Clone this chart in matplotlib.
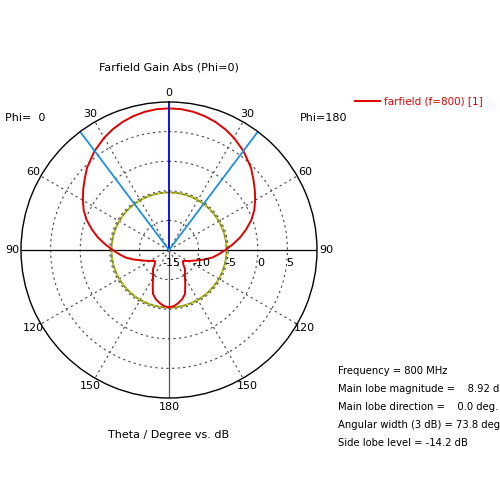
import numpy as np
import matplotlib
matplotlib.use("Agg")
import matplotlib.pyplot as plt

theta_deg = [0, 5, 10, 15, 20, 25, 30, 37, 45, 50, 55, 60, 65, 70, 75, 80, 85, 90, 95, 100, 105, 110, 115, 120, 128, 135, 140, 145, 150, 155, 160, 165, 170, 175, 180]
gain_db = [8.92, 8.88, 8.7, 8.4, 8.0, 7.5, 6.9, 5.92, 4.6, 3.6, 2.7, 1.8, 0.9, -0.2, -1.5, -2.8, -4.2, -5.5, -6.6, -7.6, -8.8, -9.9, -10.7, -11.3, -12.0, -11.6, -10.8, -10.3, -9.6, -8.5, -7.1, -6.4, -5.9, -5.5, -5.3]
rings = [-15, -10, -5, 0, 5]
angle_labels = [0, 30, 60, 90, 120, 150, 180]
side_lobe_db = -5.28
half_width = 73.8 / 2

plt.rcParams['font.family'] = 'DejaVu Sans'
fig = plt.figure(figsize=(5, 5), dpi=100)
ax = fig.add_axes([0.042, 0.204, 0.592, 0.592], projection='polar')
ax.set_theta_zero_location('N')
ax.set_theta_direction(-1)
ax.set_rlim(-15, 10)
ax.grid(False)
ax.set_xticks([]); ax.set_yticks([])
ax.spines['polar'].set_linewidth(1.0)

t = np.radians(np.linspace(0, 360, 721))
for r in [-10, -5, 0, 5]:
    ax.plot(t, np.full_like(t, r), color='#444444', ls=(0, (2, 3)), lw=0.8)
for a in [30, 60, 120, 150, 210, 240, 300, 330]:
    ax.plot(np.radians([a, a]), [-15, 10], color='#444444', ls=(0, (2, 3)), lw=0.8)
ax.plot(np.radians([90, 90]), [-15, 10], color='black', lw=0.9)
ax.plot(np.radians([270, 270]), [-15, 10], color='black', lw=0.9)
ax.plot(np.radians([180, 180]), [-15, 10], color='#555555', lw=0.9)

ax.plot(t, np.full_like(t, side_lobe_db), color='#7a8a10', lw=1.3)
ax.plot(t, np.full_like(t, side_lobe_db), color='#e8e000', lw=0.8, ls=(0, (2, 3)))

th = np.array(theta_deg, float)
g = np.array(gain_db, float)
full_th = np.concatenate([-th[::-1], th[1:]])
full_g = np.concatenate([g[::-1], g[1:]])
ax.plot(np.radians(full_th), full_g, color='#e00000', lw=1.4)

ax.plot([0, 0], [-15, 10], color='#0000dd', lw=1.3)
for a in [half_width, -half_width]:
    ax.plot(np.radians([a, a]), [-15, 10], color='#1e90e0', lw=1.3)

for a in angle_labels:
    for s in ([1, -1] if a not in (0, 180) else [1]):
        ax.text(np.radians(s * a), 11.5, str(a), ha='center', va='center', fontsize=8, clip_on=False)

for r in rings:
    ax.annotate(str(r), xy=(np.radians(90), r), xytext=(2, -9), textcoords='offset points',
                ha='center', va='center', fontsize=8)

fig.text(0.338, 0.864, 'Farfield Gain Abs (Phi=0)', ha='center', va='center', fontsize=8)
fig.text(0.01, 0.764, 'Phi=  0', ha='left', va='center', fontsize=8)
fig.text(0.60, 0.764, 'Phi=180', ha='left', va='center', fontsize=8)
fig.text(0.338, 0.130, 'Theta / Degree vs. dB', ha='center', va='center', fontsize=8)

fig.lines.append(plt.Line2D([0.71, 0.76], [0.798, 0.798], color='#e00000', lw=1.4, transform=fig.transFigure))
fig.text(0.768, 0.798, 'farfield (f=800) [1]', ha='left', va='center', fontsize=7.5, color='#e00000')

info = ['Frequency = 800 MHz', 'Main lobe magnitude =    8.92 dB', 'Main lobe direction =    0.0 deg.',
        'Angular width (3 dB) = 73.8 deg.', 'Side lobe level = -14.2 dB']
for i, s in enumerate(info):
    fig.text(0.676, 0.258 - i * 0.036, s, ha='left', va='center', fontsize=7.2)

fig.savefig('out.png', dpi=100)
